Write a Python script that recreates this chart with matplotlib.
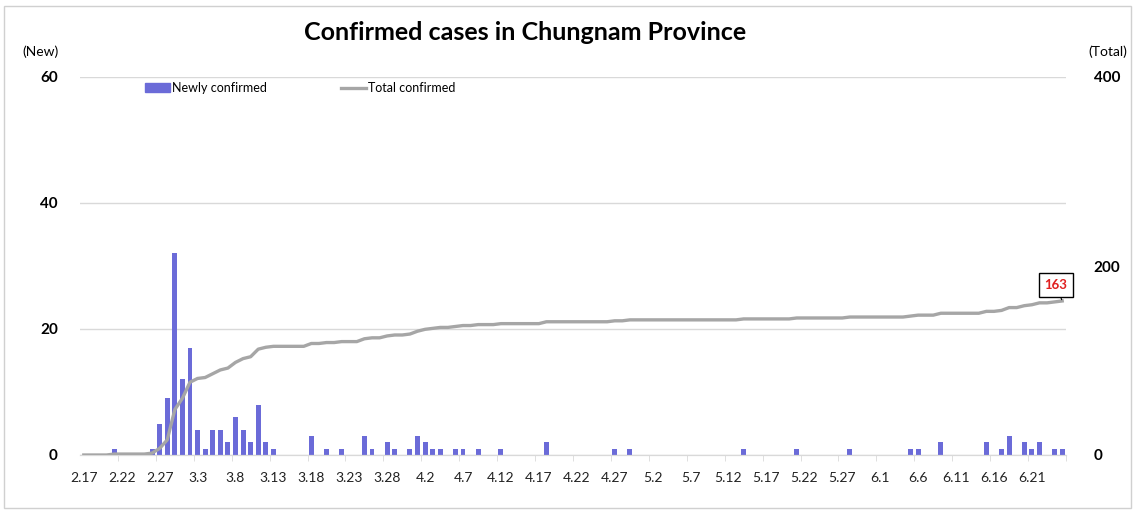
import numpy as np
import matplotlib
matplotlib.use('Agg')
import matplotlib.pyplot as plt
from matplotlib.patches import Rectangle
from matplotlib.lines import Line2D
import datetime

# daily new cases (Chungnam), 2.17 .. 6.25
new_cases = {
    '2.21': 1, '2.26': 1, '2.27': 5, '2.28': 9, '2.29': 32,
    '3.1': 12, '3.2': 17, '3.3': 4, '3.4': 1, '3.5': 4, '3.6': 4, '3.7': 2,
    '3.8': 6, '3.9': 4, '3.10': 2, '3.11': 8, '3.12': 2, '3.13': 1,
    '3.18': 3, '3.20': 1, '3.22': 1, '3.25': 3, '3.26': 1, '3.28': 2,
    '3.29': 1, '3.31': 1,
    '4.1': 3, '4.2': 2, '4.3': 1, '4.4': 1, '4.6': 1, '4.7': 1, '4.9': 1,
    '4.12': 1, '4.18': 2, '4.27': 1, '4.29': 1,
    '5.14': 1, '5.21': 1, '5.28': 1,
    '6.5': 1, '6.6': 1, '6.9': 2, '6.15': 2, '6.17': 1, '6.18': 3,
    '6.20': 2, '6.21': 1, '6.22': 2, '6.24': 1, '6.25': 1,
}

start = datetime.date(2020, 2, 17)
end = datetime.date(2020, 6, 25)
dates = []
d = start
while d <= end:
    dates.append("%d.%d" % (d.month, d.day))
    d += datetime.timedelta(days=1)

newly = np.array([new_cases.get(s, 0) for s in dates])
total = np.cumsum(newly)
x = np.arange(len(dates))

font_name = 'Lato'
bar_color = '#6b6bd8'
line_color = '#a6a6a6'
grid_color = '#d9d9d9'

fig = plt.figure(figsize=(11.35, 5.12), dpi=100)
ax = fig.add_axes([80 / 1135, 1 - 455 / 512, (1066 - 80) / 1135, (455 - 77) / 512])
ax2 = ax.twinx()

bars = ax.bar(x, newly, width=0.65, color=bar_color, zorder=2)
line, = ax2.plot(x, total, color=line_color, linewidth=2.4, zorder=3)

ax.set_xlim(-0.5, len(dates) - 0.5)
ax.set_ylim(0, 60)
ax2.set_ylim(0, 400)

ax.set_yticks([0, 20, 40, 60])
ax2.set_yticks([0, 200, 400])
for a in (ax, ax2):
    for sp in ['top', 'left', 'right']:
        a.spines[sp].set_visible(False)
    a.spines['bottom'].set_color(grid_color)
ax.grid(axis='y', color=grid_color, linewidth=1, zorder=0)
ax.set_axisbelow(True)

ax.tick_params(axis='y', length=0, pad=16, labelsize=11)
ax2.tick_params(axis='y', length=0, pad=20, labelsize=11)
for lab in ax.get_yticklabels() + ax2.get_yticklabels():
    lab.set_fontweight('bold')
    lab.set_fontname(font_name)

ax.set_xticks(x[::5])
ax.set_xticklabels(dates[::5], fontsize=10, fontname=font_name, color='#222222')
ax.tick_params(axis='x', length=0, pad=12)
ax.set_xticks(np.arange(4.5, len(dates), 5), minor=True)
ax.tick_params(axis='x', which='minor', length=4, color=grid_color, direction='out')

# end label
ax2.annotate(str(total[-1]), xy=(x[-1], total[-1]), xytext=(-4.5, 11.5),
             textcoords='offset points', ha='center', va='center',
             color='#e02020', fontsize=9.5, fontweight='bold', fontname=font_name,
             bbox=dict(boxstyle='square,pad=0.45', fc='white', ec='black', lw=1),
             arrowprops=dict(arrowstyle='-', color='black', lw=0.8, shrinkA=0, shrinkB=1))

fig.text(525 / 1135, 1 - 33 / 512, 'Confirmed cases in Chungnam Province',
         ha='center', va='center', fontsize=18, fontweight='bold', fontname=font_name)
fig.text(40 / 1135, 1 - 52 / 512, '(New)', ha='center', va='center',
         fontsize=10, fontname=font_name)
fig.text(1108 / 1135, 1 - 52 / 512, '(Total)', ha='center', va='center',
         fontsize=10, fontname=font_name)

handles = [Rectangle((0, 0), 1, 1, color=bar_color),
           Line2D([0], [0], color=line_color, lw=2.4)]
leg = fig.legend(handles, ['Newly confirmed', 'Total confirmed'],
                 loc='center left', bbox_to_anchor=(134 / 1135, 1 - 88 / 512),
                 ncol=2, frameon=False, handlelength=2.0,
                 handleheight=0.7, handletextpad=0.15, columnspacing=5.9,
                 prop={'family': font_name, 'size': 9})

# outer chart frame
fig.patches.append(Rectangle((4 / 1135, 4 / 512), 1127 / 1135, 1 - 10 / 512,
                             transform=fig.transFigure, fill=False,
                             ec='#d0d0d0', lw=1))

fig.savefig('out.png', dpi=100)
